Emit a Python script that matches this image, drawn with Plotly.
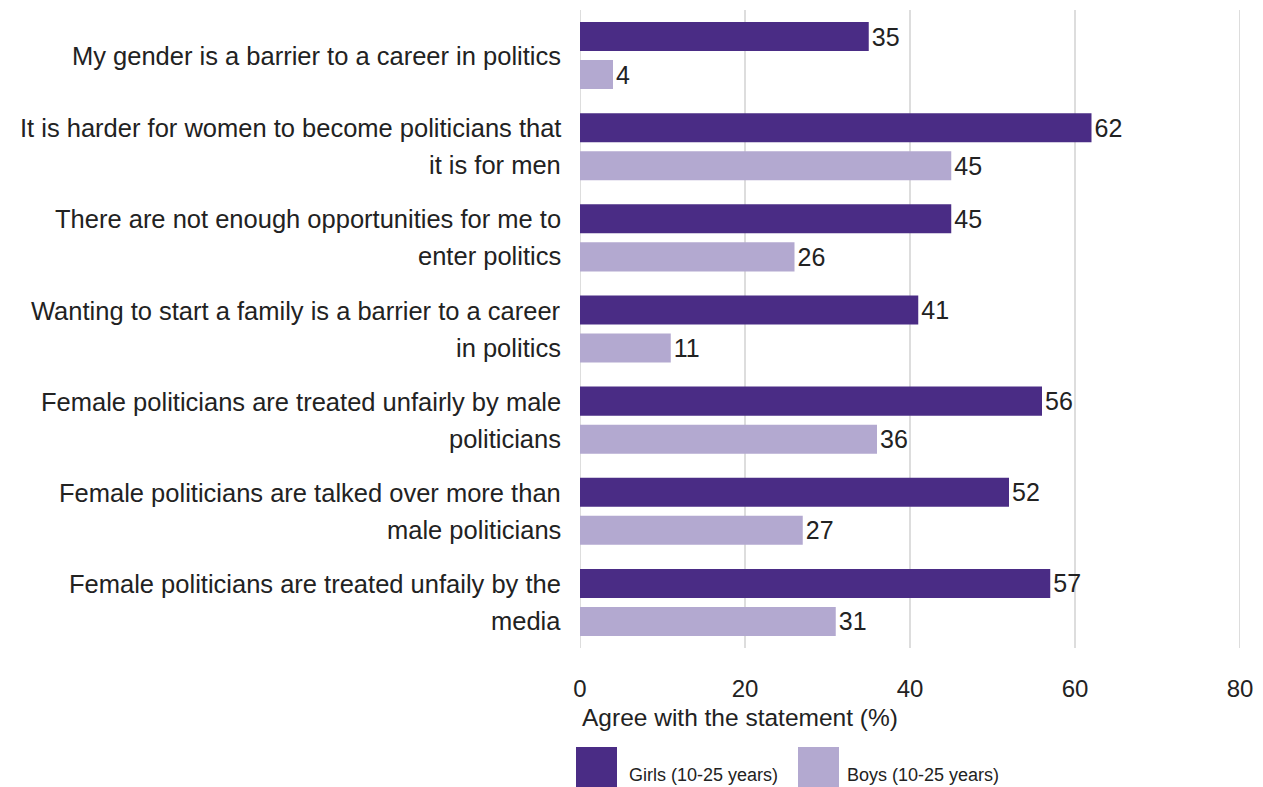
import plotly.graph_objects as go

categories = [
    "My gender is a barrier to a career in politics",
    "It is harder for women to become politicians that\nit is for men",
    "There are not enough opportunities for me to\nenter politics",
    "Wanting to start a family is a barrier to a career\nin politics",
    "Female politicians are treated unfairly by male\npoliticians",
    "Female politicians are talked over more than\nmale politicians",
    "Female politicians are treated unfaily by the\nmedia",
]
girls = [35, 62, 45, 41, 56, 52, 57]
boys = [4, 45, 26, 11, 36, 27, 31]
series_names = ["Girls (10-25 years)", "Boys (10-25 years)"]
colors = ["#4A2C85", "#B3A9D0"]
x_ticks = [0, 20, 40, 60, 80]
x_title = "Agree with the statement (%)"

FONT = "Liberation Sans"
TXT = "#222222"
GRID = "#DDDDDD"
OFF = 8  # page body margin
W, H = 1263, 787
PL, PR, PT, PB = 580, 1240, 10, 648  # plot area in reference pixels
pw, ph = PR - PL, PB - PT

def px_x(p):
    return (p - PL) / pw

def px_y(p):
    return (PB - p) / ph

fig = go.Figure()
for name, vals, col in zip(series_names, [girls, boys], colors):
    fig.add_trace(go.Bar(
        y=categories, x=vals, name=name, orientation="h",
        marker=dict(color=col, line=dict(width=0)),
        text=[str(v) for v in vals], textposition="outside",
        textfont=dict(family=FONT, size=25, color=TXT),
        cliponaxis=False, showlegend=False,
    ))

annotations = []
for cat in categories:
    lines = cat.split("\n")
    n = len(lines)
    for i, ln in enumerate(lines):
        shift = (i - (n - 1) / 2) * 37
        annotations.append(dict(
            x=0, xref="paper", y=cat, yref="y", text=ln, showarrow=False,
            xanchor="right", yanchor="middle", xshift=-17, yshift=-shift,
            font=dict(family=FONT, size=25.5, color=TXT),
        ))

annotations.append(dict(
    x=0, xref="paper", y=px_y(717), yref="paper", text=x_title, showarrow=False,
    xanchor="left", yanchor="middle", font=dict(family=FONT, size=24.5, color=TXT),
))

shapes = []
# edge gridlines (plotly omits gridlines lying on the plot edges)
for xv in (x_ticks[0], x_ticks[-1]):
    shapes.append(dict(
        type="line", xref="x", yref="paper", x0=xv, x1=xv, y0=0, y1=1,
        line=dict(color=GRID, width=2), layer="below",
    ))
legend_pos = [(576, 627), (798, 845)]
for (sx, tx), name, col in zip(legend_pos, series_names, colors):
    shapes.append(dict(
        type="rect", xref="paper", yref="paper",
        x0=px_x(sx), x1=px_x(sx + 41), y0=px_y(787), y1=px_y(747),
        fillcolor=col, line=dict(width=0), layer="above",
    ))
    annotations.append(dict(
        x=px_x(tx), xref="paper", y=px_y(775), yref="paper", text=name,
        showarrow=False, xanchor="left", yanchor="middle",
        font=dict(family=FONT, size=18, color=TXT),
    ))

fig.update_layout(
    width=W - OFF, height=H - OFF,
    margin=dict(l=PL - OFF, r=W - PR, t=PT - OFF, b=H - PB),
    paper_bgcolor="white", plot_bgcolor="white",
    barmode="group", bargap=0.165, bargroupgap=0.237,
    annotations=annotations, shapes=shapes,
    showlegend=False,
    font=dict(family=FONT, color=TXT),
)
fig.update_xaxes(
    range=[0, 80], tickvals=x_ticks, showgrid=True, gridcolor=GRID,
    gridwidth=2, zeroline=False, showline=False,
    tickfont=dict(family=FONT, size=24, color=TXT), ticklabelstandoff=24,
)
fig.update_yaxes(
    autorange="reversed", showticklabels=False, showgrid=False,
    zeroline=False, showline=False,
)
fig.write_html("out.html")
